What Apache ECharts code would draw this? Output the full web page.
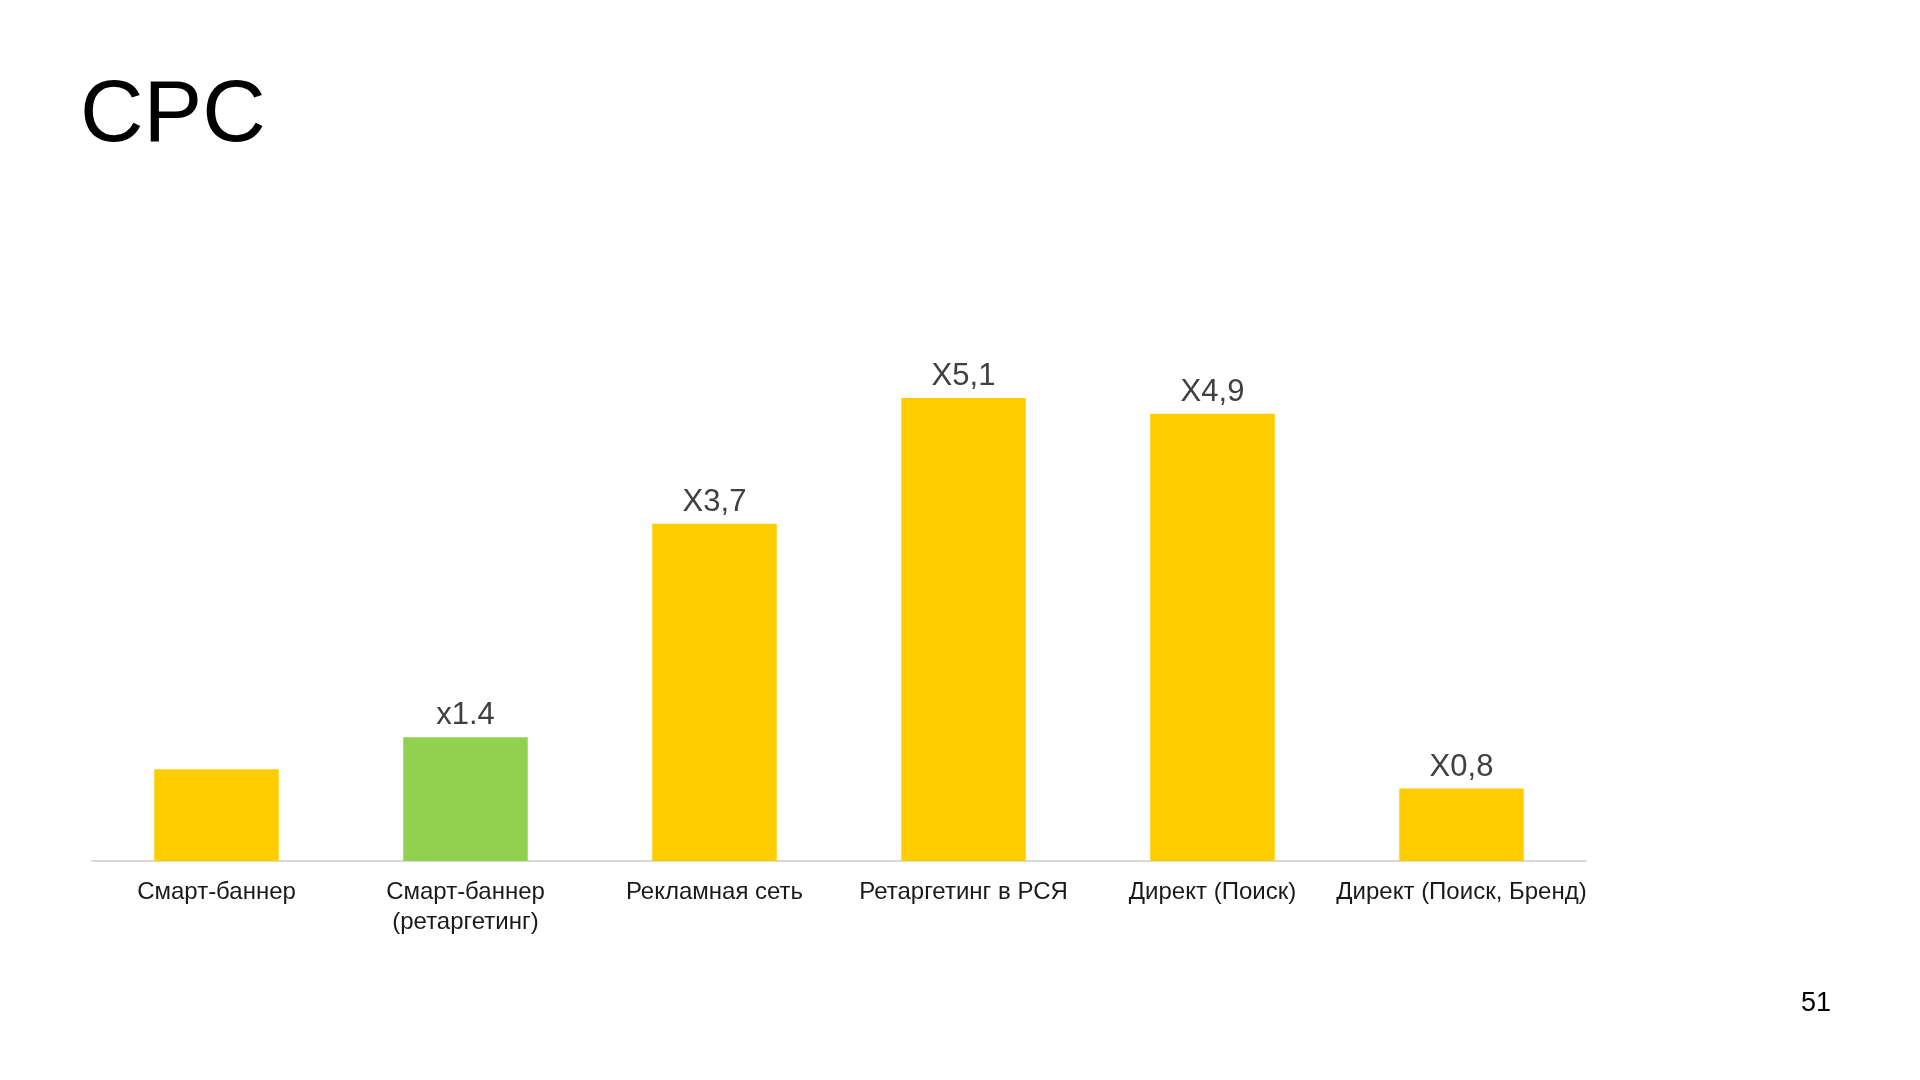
<!DOCTYPE html>
<html><head><meta charset="utf-8">
<script src="https://cdn.jsdelivr.net/npm/echarts@6/dist/echarts.min.js"></script>
<style>html,body{margin:0;padding:0;background:#fff}#c{width:1920px;height:1080px}</style>
</head><body><div id="c"></div>
<script>
const categories = ['Смарт-баннер', 'Смарт-баннер\n(ретаргетинг)', 'Рекламная сеть', 'Ретаргетинг в РСЯ', 'Директ (Поиск)', 'Директ (Поиск, Бренд)'];
const values = [1, 1.35, 3.68, 5.05, 4.88, 0.79];
const valueLabels = ['', 'x1.4', 'X3,7', 'X5,1', 'X4,9', 'X0,8'];
const barColors = ['#FFCC00', '#92D050', '#FFCC00', '#FFCC00', '#FFCC00', '#FFCC00'];

const chart = echarts.init(document.getElementById('c'));
chart.setOption({
  backgroundColor: '#fff',
  animation: false,
  title: [
    {text: 'CPC', left: 75, top: 68, textStyle: {fontFamily: 'Liberation Sans', fontSize: 88, fontWeight: 'normal', color: '#000'}},
    {text: '51', left: 1796, top: 985, textStyle: {fontFamily: 'Liberation Sans', fontSize: 27, fontWeight: 'normal', color: '#000'}}
  ],
  grid: {left: 92, top: 311, width: 1494, height: 550, containLabel: false},
  xAxis: {
    type: 'category', data: categories,
    axisLine: {lineStyle: {color: '#D9D9D9', width: 2}},
    axisTick: {show: false},
    axisLabel: {fontFamily: 'Liberation Sans', fontSize: 24, color: '#1a1a1a', margin: 16, lineHeight: 30, interval: 0}
  },
  yAxis: {type: 'value', min: 0, max: 6, show: false, splitLine: {show: false}},
  series: [{
    type: 'bar', barWidth: '50%',
    data: values.map((v, i) => ({value: v, itemStyle: {color: barColors[i]}, label: {formatter: valueLabels[i]}})),
    label: {show: true, position: 'top', distance: 6, fontFamily: 'Liberation Sans', fontSize: 31, color: '#404040'}
  }]
});
</script></body></html>
